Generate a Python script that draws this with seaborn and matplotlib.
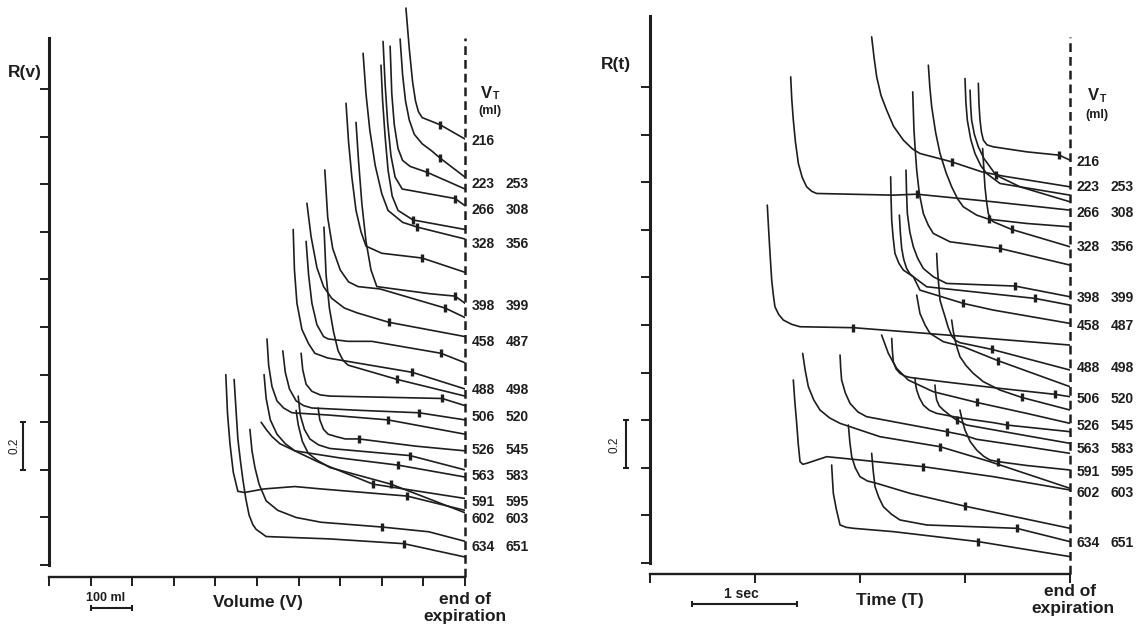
import numpy as np
import pandas as pd
import seaborn as sns
import matplotlib.pyplot as plt

sns.set_style("ticks")
plt.rcParams['font.family'] = ['Liberation Sans', 'DejaVu Sans']

INK = "#1e1e1e"

# ---- left panel: R(v), volume in ml before end of expiration ----
vol_x = [
    [-142, -134, -126, -119, -112, -103, -60, 0],
    [-156, -150, -143, -134, -122, -103, -80, -60, 0],
    [-180, -176, -170, -161, -150, -132, -91, 0],
    [-197, -192, -186, -178, -168, -151, -24, 0],
    [-202, -198, -192, -185, -175, -161, -125, 0],
    [-245, -238, -229, -216, -200, -185, -150, -115, 0],
    [-286, -280, -272, -262, -250, -238, -200, -103, 0],
    [-262, -256, -248, -238, -226, -212, -84, -24, 0],
    [-337, -330, -318, -300, -280, -257, -204, -48, 0],
    [-380, -370, -356, -340, -320, -290, -260, -183, 0],
    [-413, -410, -404, -392, -376, -361, -330, -296, -127, 0],
    [-382, -376, -368, -356, -340, -329, -281, -224, -58, 0],
    [-339, -334, -326, -316, -305, -293, -281, -163, 0],
    [-476, -472, -464, -452, -436, -416, -325, -185, 0],
    [-438, -432, -422, -406, -388, -368, -252, -111, 0],
    [-394, -390, -382, -368, -348, -325, -55, 0],
    [-483, -478, -468, -452, -432, -409, -300, -161, 0],
    [-401, -396, -386, -373, -352, -325, -132, 0],
    [-406, -401, -391, -377, -355, -325, -178, 0],
    [-353, -349, -340, -329, -310, -288, -255, -120, 0],
    [-575, -571, -565, -557, -546, -530, -483, -409, -346, -139, 0],
    [-555, -550, -546, -540, -534, -527, -519, -510, -502, -478, -325, -147, 0],
    [-517, -512, -505, -495, -478, -450, -406, -346, -200, -87, 0],
    [-490, -478, -464, -445, -421, -349, -221, 0],
]
vol_y = [
    [2.34, 2.17, 2.03, 1.95, 1.905, 1.88, 1.85, 1.79],
    [2.21, 2.06, 1.95, 1.87, 1.81, 1.77, 1.74, 1.71, 1.63],
    [2.18, 1.98, 1.85, 1.75, 1.70, 1.675, 1.65, 1.58],
    [2.20, 2.02, 1.86, 1.72, 1.63, 1.58, 1.54, 1.51],
    [2.10, 1.95, 1.80, 1.66, 1.55, 1.49, 1.45, 1.41],
    [2.15, 1.98, 1.83, 1.68, 1.56, 1.49, 1.44, 1.42, 1.37],
    [1.94, 1.78, 1.63, 1.49, 1.40, 1.34, 1.31, 1.29, 1.23],
    [1.86, 1.70, 1.52, 1.36, 1.24, 1.17, 1.14, 1.13, 1.10],
    [1.66, 1.46, 1.33, 1.24, 1.19, 1.17, 1.16, 1.08, 1.04],
    [1.52, 1.38, 1.25, 1.17, 1.12, 1.08, 1.06, 1.02, 0.96],
    [1.41, 1.24, 1.10, 0.99, 0.93, 0.89, 0.87, 0.86, 0.81, 0.74],
    [1.36, 1.22, 1.10, 1.01, 0.96, 0.95, 0.94, 0.94, 0.89, 0.85],
    [1.42, 1.22, 1.08, 0.98, 0.90, 0.86, 0.84, 0.78, 0.71],
    [0.95, 0.84, 0.75, 0.69, 0.66, 0.64, 0.63, 0.61, 0.55],
    [0.90, 0.81, 0.74, 0.69, 0.67, 0.66, 0.65, 0.64, 0.61],
    [0.89, 0.82, 0.76, 0.73, 0.715, 0.71, 0.70, 0.67],
    [0.80, 0.70, 0.61, 0.55, 0.51, 0.48, 0.45, 0.42, 0.37],
    [0.71, 0.63, 0.57, 0.53, 0.505, 0.49, 0.46, 0.40],
    [0.65, 0.59, 0.52, 0.47, 0.44, 0.41, 0.34, 0.22],
    [0.66, 0.61, 0.57, 0.55, 0.54, 0.53, 0.53, 0.50, 0.48],
    [0.80, 0.64, 0.51, 0.39, 0.31, 0.305, 0.32, 0.33, 0.32, 0.29, 0.23],
    [0.78, 0.64, 0.53, 0.44, 0.36, 0.28, 0.21, 0.17, 0.15, 0.12, 0.11, 0.09, 0.034],
    [0.57, 0.48, 0.41, 0.34, 0.27, 0.23, 0.20, 0.18, 0.16, 0.14, 0.10],
    [0.60, 0.57, 0.54, 0.51, 0.49, 0.43, 0.34, 0.28],
]
vol_mark_x = [-60, -60, -91, -24, -125, -115, -103, -24, -48, -183, -127, -58,
              -163, -185, -111, -55, -161, -132, -178, -255, -139, -147, -200, -221]
vol_mark_y = [1.85, 1.71, 1.65, 1.54, 1.45, 1.42, 1.29, 1.13, 1.08, 1.02, 0.81, 0.89,
              0.78, 0.61, 0.64, 0.70, 0.42, 0.46, 0.34, 0.53, 0.29, 0.09, 0.16, 0.34]

# ---- right panel: R(t), time in s before end of expiration ----
time_x = [
    [-1.889, -1.865, -1.841, -1.80, -1.746, -1.68, -1.587, -1.50, -1.429, -1.127, -0.841, -0.635, 0],
    [-0.873, -0.867, -0.857, -0.843, -0.825, -0.79, -0.730, -0.413, -0.102, 0],
    [-0.952, -0.946, -0.937, -0.91, -0.873, -0.82, -0.762, -0.705, -0.476, 0],
    [-1.000, -0.992, -0.978, -0.945, -0.905, -0.85, -0.794, -0.667, 0],
    [-2.660, -2.650, -2.635, -2.615, -2.587, -2.55, -2.508, -2.46, -2.413, -1.683, -1.460, -0.730, 0],
    [-1.349, -1.335, -1.317, -1.28, -1.238, -1.18, -1.127, -1.07, -1.016, -0.889, -0.775, -0.413, 0],
    [-1.498, -1.492, -1.486, -1.473, -1.460, -1.435, -1.397, -1.35, -1.302, -1.143, -0.667, 0],
    [-0.832, -0.821, -0.810, -0.795, -0.778, -0.755, -0.730, -0.556, 0],
    [-1.708, -1.704, -1.698, -1.685, -1.667, -1.63, -1.587, -1.492, -1.429, -1.016, -0.730, 0],
    [-1.562, -1.557, -1.549, -1.525, -1.492, -1.45, -1.397, -1.302, -1.175, -0.524, 0],
    [-1.625, -1.616, -1.603, -1.583, -1.556, -1.525, -1.492, -1.365, -0.333, 0],
    [-1.270, -1.263, -1.254, -1.238, -1.215, -1.190, -1.160, -1.127, -1.090, -1.048, -0.746, 0],
    [-2.883, -2.870, -2.857, -2.841, -2.825, -2.810, -2.775, -2.730, -2.65, -2.571, -2.063, -1.365, 0],
    [-1.127, -1.112, -1.095, -1.072, -1.048, -0.99, -0.921, -0.825, -0.667, -0.460, 0],
    [-1.460, -1.429, -1.380, -1.333, -1.206, -1.016, -0.683, 0],
    [-1.698, -1.692, -1.683, -1.655, -1.619, -1.575, -1.524, -1.206, -0.667, -0.143, 0],
    [-1.794, -1.730, -1.651, -1.540, -1.302, -0.889, -0.413, 0],
    [-1.476, -1.470, -1.460, -1.435, -1.397, -1.34, -1.270, -1.048, -0.730, -0.603, 0],
    [-1.286, -1.280, -1.270, -1.245, -1.206, -1.127, -1.079, -0.984, -0.730, -0.413, 0],
    [-1.048, -1.027, -1.000, -0.95, -0.889, -0.82, -0.762, -0.683, -0.413, 0],
    [-2.190, -2.184, -2.175, -2.14, -2.095, -2.02, -1.937, -1.683, -1.175, -1.016, -0.889, -0.413, 0],
    [-2.546, -2.522, -2.492, -2.44, -2.381, -2.29, -2.190, -1.810, -1.238, -0.762, 0],
    [-2.635, -2.620, -2.603, -2.588, -2.571, -2.545, -2.508, -2.317, -2.000, -1.397, -0.730, 0],
    [-2.111, -2.097, -2.079, -2.045, -2.000, -1.93, -1.841, -1.524, -1.000, 0],
    [-1.889, -1.875, -1.857, -1.82, -1.778, -1.70, -1.619, -1.365, -0.508, 0],
    [-2.270, -2.262, -2.254, -2.225, -2.190, -2.13, -2.063, -1.683, -0.873, 0],
]
time_y = [
    [2.211, 2.12, 2.043, 1.965, 1.903, 1.835, 1.777, 1.74, 1.721, 1.686, 1.644, 1.626, 1.581],
    [2.016, 1.93, 1.861, 1.81, 1.777, 1.757, 1.749, 1.728, 1.714, 1.693],
    [1.987, 1.92, 1.861, 1.80, 1.749, 1.70, 1.665, 1.630, 1.581, 1.518],
    [2.036, 1.94, 1.861, 1.78, 1.721, 1.67, 1.637, 1.595, 1.546],
    [2.043, 1.95, 1.861, 1.77, 1.679, 1.62, 1.581, 1.562, 1.553, 1.546, 1.550, 1.518, 1.483],
    [2.092, 2.0, 1.917, 1.81, 1.721, 1.64, 1.581, 1.53, 1.497, 1.462, 1.445, 1.427, 1.413],
    [1.980, 1.90, 1.819, 1.73, 1.651, 1.553, 1.469, 1.42, 1.385, 1.350, 1.322, 1.252],
    [1.742, 1.66, 1.581, 1.52, 1.469, 1.445, 1.434, 1.402, 1.329],
    [1.623, 1.53, 1.441, 1.37, 1.301, 1.26, 1.231, 1.203, 1.147, 1.091, 1.063, 1.007],
    [1.651, 1.56, 1.469, 1.39, 1.329, 1.28, 1.238, 1.203, 1.175, 1.164, 1.119],
    [1.462, 1.39, 1.322, 1.275, 1.238, 1.215, 1.203, 1.161, 1.112, 1.084],
    [1.301, 1.24, 1.189, 1.105, 1.07, 1.035, 0.99, 0.955, 0.935, 0.926, 0.898, 0.811],
    [1.504, 1.40, 1.301, 1.189, 1.125, 1.077, 1.045, 1.021, 1.003, 0.993, 0.989, 0.965, 0.916],
    [1.021, 0.975, 0.937, 0.90, 0.867, 0.83, 0.797, 0.762, 0.727, 0.696, 0.643],
    [1.126, 1.049, 1.0, 0.965, 0.930, 0.909, 0.850, 0.741],
    [0.944, 0.895, 0.846, 0.815, 0.797, 0.786, 0.780, 0.762, 0.734, 0.709, 0.699],
    [0.958, 0.881, 0.818, 0.769, 0.720, 0.675, 0.629, 0.587],
    [0.776, 0.75, 0.727, 0.695, 0.664, 0.642, 0.629, 0.610, 0.590, 0.580, 0.552],
    [0.748, 0.715, 0.685, 0.66, 0.643, 0.615, 0.601, 0.580, 0.560, 0.535, 0.503],
    [0.643, 0.60, 0.559, 0.51, 0.475, 0.448, 0.433, 0.426, 0.410, 0.391],
    [0.874, 0.82, 0.769, 0.715, 0.671, 0.635, 0.615, 0.594, 0.552, 0.538, 0.520, 0.489, 0.461],
    [0.881, 0.81, 0.741, 0.685, 0.643, 0.61, 0.587, 0.531, 0.489, 0.426, 0.314],
    [0.769, 0.675, 0.587, 0.50, 0.426, 0.415, 0.419, 0.447, 0.433, 0.405, 0.363, 0.307],
    [0.580, 0.51, 0.447, 0.40, 0.363, 0.345, 0.335, 0.293, 0.239, 0.146],
    [0.461, 0.39, 0.321, 0.275, 0.237, 0.205, 0.181, 0.160, 0.146, 0.090],
    [0.412, 0.35, 0.293, 0.225, 0.160, 0.150, 0.146, 0.132, 0.090, 0.027],
]
time_mark_x = [-1.127, -0.102, -0.705, -1.460, -0.775, -0.667, -0.556, -1.016, -0.524,
               -0.333, -0.746, -2.063, -0.460, -0.683, -0.143, -0.889, -0.603, -1.079,
               -0.683, -1.175, -1.238, -1.397, -1.000, -0.508, -0.873]
time_mark_y = [1.686, 1.714, 1.630, 1.550, 1.445, 1.322, 1.402, 1.091, 1.164,
               1.112, 0.898, 0.989, 0.696, 0.850, 0.709, 0.675, 0.580, 0.601,
               0.426, 0.552, 0.489, 0.405, 0.239, 0.146, 0.090]

# tidal volume labels (ml) at the end of expiration
vt_first = ["216", "223", "266", "328", "398", "458", "488", "506", "526", "563", "591", "602", "634"]
vt_second = ["", "253", "308", "356", "399", "487", "498", "520", "545", "583", "595", "603", "651"]
vol_label_y = [1.78, 1.60, 1.49, 1.35, 1.09, 0.936, 0.734, 0.622, 0.483, 0.373, 0.266, 0.195, 0.076]
time_label_y = [1.685, 1.579, 1.47, 1.327, 1.113, 0.995, 0.818, 0.69, 0.577, 0.481, 0.384, 0.295, 0.086]


def to_frame(xs, ys):
    rows = []
    for i, (cx, cy) in enumerate(zip(xs, ys)):
        for a, b in zip(cx, cy):
            rows.append((i, a, b))
    return pd.DataFrame(rows, columns=["curve", "x", "y"])


def px(x, y):
    return x / 1147, 1 - y / 630


fig = plt.figure(figsize=(11.47, 6.3), dpi=100)
ax1 = fig.add_axes([49 / 1147, 53 / 630, 416 / 1147, 577 / 630])
ax2 = fig.add_axes([650 / 1147, 56 / 630, 420 / 1147, 574 / 630])

panels = [
    (ax1, vol_x, vol_y, vol_mark_x, vol_mark_y, vol_label_y, (-1000, 0), (-0.05, 2.374),
     np.arange(-1000, 1, 100), 2.214, 2.214),
    (ax2, time_x, time_y, time_mark_x, time_mark_y, time_label_y, (-4, 0), (-0.046, 2.366),
     np.arange(-4, 0.01, 1), 2.30, 2.21),
]

for ax, xs, ys, mx, my, ly, xl, yl, xt, ytop, dtop in panels:
    df = to_frame(xs, ys)
    sns.lineplot(data=df, x="x", y="y", units="curve", estimator=None, sort=False,
                 color=INK, linewidth=1.2, legend=False, ax=ax)
    sns.scatterplot(x=mx, y=my, marker="|", s=38, linewidth=2.4, color=INK, ax=ax, zorder=3)
    ax.set_xlim(*xl)
    ax.set_ylim(*yl)
    ax.set_xticks(xt)
    ax.set_yticks(np.arange(0, 2.01, 0.2))
    ax.tick_params(axis="both", direction="out", length=6.5, width=1.4, color=INK,
                   labelleft=False, labelbottom=False, bottom=True, left=True)
    ax.set_xlabel("")
    ax.set_ylabel("")
    ax.spines[["top", "right"]].set_visible(False)
    ax.spines["left"].set_bounds(0, ytop)
    ax.spines["left"].set_linewidth(2.2)
    ax.spines["bottom"].set_linewidth(1.7)
    ax.spines["left"].set_color(INK)
    ax.spines["bottom"].set_color(INK)
    ax.plot([0, 0], [yl[0], dtop], ls=(0, (3.5, 2)), lw=1.8, color=INK, clip_on=False)
    for a, b, y in zip(vt_first, vt_second, ly):
        ax.annotate(a, xy=(0, y), xytext=(5, 0), textcoords="offset points", ha="left",
                    va="center", fontsize=10, fontweight="bold", color=INK,
                    annotation_clip=False)
        if b:
            ax.annotate(b, xy=(0, y), xytext=(29, 0), textcoords="offset points", ha="left",
                        va="center", fontsize=10, fontweight="bold", color=INK,
                        annotation_clip=False)

# scale bars
ax1.errorbar(x=[-1062], y=[0.5], yerr=[0.1], fmt="none", ecolor=INK, elinewidth=1.5,
             capsize=2.5, capthick=1.5, clip_on=False)
ax1.errorbar(x=[-850], y=[-0.181], xerr=[50], fmt="none", ecolor=INK, elinewidth=1.5,
             capsize=2, capthick=1.5, clip_on=False)
ax2.errorbar(x=[-4.229], y=[0.5], yerr=[0.1], fmt="none", ecolor=INK, elinewidth=1.5,
             capsize=2.5, capthick=1.5, clip_on=False)
ax2.errorbar(x=[-3.1], y=[-0.172], xerr=[0.5], fmt="none", ecolor=INK, elinewidth=1.5,
             capsize=2, capthick=1.5, clip_on=False)

bold = dict(fontweight="bold", color=INK, ha="center", va="center")
fig.text(*px(25, 73), "R(v)", fontsize=12.5, **bold)
fig.text(*px(616, 65), "R(t)", fontsize=12.5, **bold)
fig.text(*px(15, 446), "0.2", fontsize=8.5, rotation=90, color=INK, ha="center", va="center")
fig.text(*px(615, 445), "0.2", fontsize=8.5, rotation=90, color=INK, ha="center", va="center")

for vx, vy in [(486, 93), (1093, 96)]:
    fig.text(*px(vx, vy), "V", fontsize=12, **bold)
    fig.text(*px(vx + 10, vy + 3), "T", fontsize=7.5, **bold)
fig.text(*px(490, 111), "(ml)", fontsize=9, **bold)
fig.text(*px(1097, 115), "(ml)", fontsize=9, **bold)

fig.text(*px(106, 598), "100 ml", fontsize=9, **bold)
fig.text(*px(258, 602), "Volume (V)", fontsize=12.5, **bold)
fig.text(*px(465, 599), "end of", fontsize=12.5, **bold)
fig.text(*px(465, 617), "expiration", fontsize=12.5, **bold)

fig.text(*px(741, 594), "1 sec", fontsize=10, **bold)
fig.text(*px(890, 601), "Time (T)", fontsize=12.5, **bold)
fig.text(*px(1070, 592), "end of", fontsize=12.5, **bold)
fig.text(*px(1073, 609), "expiration", fontsize=12.5, **bold)

fig.savefig("out.png", dpi=100)
